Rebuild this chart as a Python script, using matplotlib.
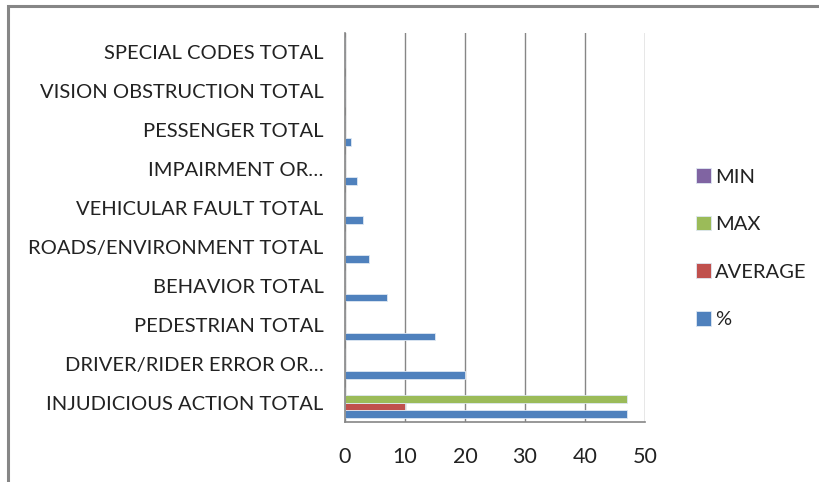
import matplotlib.pyplot as plt
import matplotlib.patches as patches
import numpy as np

plt.rcParams['font.family'] = ['Lato', 'DejaVu Sans']

# categories, bottom to top
categories = ["INJUDICIOUS ACTION TOTAL", "DRIVER/RIDER ERROR OR…",
              "PEDESTRIAN TOTAL", "BEHAVIOR TOTAL",
              "ROADS/ENVIRONMENT TOTAL", "VEHICULAR FAULT TOTAL",
              "IMPAIRMENT OR…", "PESSENGER TOTAL",
              "VISION OBSTRUCTION TOTAL", "SPECIAL CODES TOTAL"]
pct = [47, 20, 15, 7, 4, 3, 2, 1, 0, 0]
average = [10, 0, 0, 0, 0, 0, 0, 0, 0, 0]
maximum = [47, 0, 0, 0, 0, 0, 0, 0, 0, 0]
minimum = [0, 0, 0, 0, 0, 0, 0, 0, 0, 0]

series = [("%", pct, "#4F81BD"), ("AVERAGE", average, "#C0504D"),
          ("MAX", maximum, "#9BBB59"), ("MIN", minimum, "#8064A2")]

fig = plt.figure(figsize=(8.19, 4.82), dpi=100)
ax = fig.add_axes([0.4212, 0.1245, 0.3663, 0.807])

y = np.arange(len(categories))
h = 0.2
for k, (name, vals, col) in enumerate(series):
    ax.barh(y + (k - 1.5) * h, vals, height=h, color=col, label=name,
            edgecolor='#dfe8f3', linewidth=0.6)

ax.set_xlim(0, 50)
ax.set_ylim(-0.5, len(categories) - 0.5)
ax.set_xticks([0, 10, 20, 30, 40, 50])
ax.set_yticks(y)
ax.set_yticklabels(categories)
ax.tick_params(axis='both', length=0, colors='#222222')
ax.tick_params(axis='x', pad=18, labelsize=15.5)
ax.tick_params(axis='y', pad=15.5, labelsize=14.5)
ax.xaxis.grid(True, color='#868686', linewidth=1)
ax.set_axisbelow(True)
for s in ['top', 'right']:
    ax.spines[s].set_visible(False)
for s in ['left', 'bottom']:
    ax.spines[s].set_color('#868686')
    ax.spines[s].set_linewidth(1.2)

handles, labels = ax.get_legend_handles_labels()
leg = fig.legend(handles[::-1], labels[::-1], loc='center left',
                 bbox_to_anchor=(0.828, 0.485), frameon=False,
                 fontsize=14.5, handlelength=0.75, handleheight=0.75,
                 handletextpad=0.2, labelspacing=1.5)
for t in leg.get_texts():
    t.set_color('#222222')

# outer chart border
fig.patches.append(patches.Rectangle((8 / 819, -0.1), 1.1, 1 - 6 / 482 + 0.1,
                                     transform=fig.transFigure, fill=False,
                                     edgecolor='#868686', linewidth=2.2))

plt.savefig("out.png", dpi=100)
